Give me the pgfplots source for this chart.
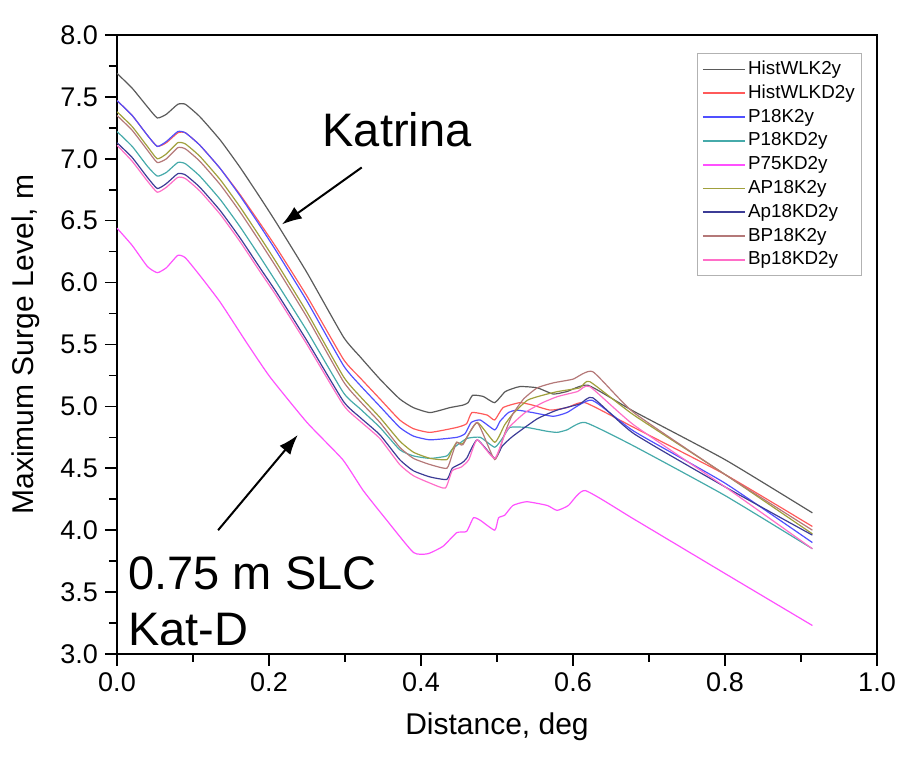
\documentclass[border=0pt]{standalone}
\usepackage{pgfplots}
\pgfplotsset{compat=1.18}
\usepackage{fontspec}
\setmainfont{Liberation Sans}
\usetikzlibrary{arrows.meta}
\definecolor{histblack}{RGB}{90,90,90}
\definecolor{histred}{RGB}{255,90,90}
\definecolor{pblue}{RGB}{80,80,255}
\definecolor{pteal}{RGB}{70,170,170}
\definecolor{pmag}{RGB}{255,80,255}
\definecolor{aolive}{RGB}{160,160,60}
\definecolor{anavy}{RGB}{60,60,150}
\definecolor{bbrown}{RGB}{180,120,120}
\definecolor{bpink}{RGB}{255,110,200}
\begin{document}
\begin{tikzpicture}
\begin{axis}[
  name=ax,
  scale only axis=true,
  width=380pt, height=309.5pt,
  xmin=0, xmax=1, ymin=3, ymax=8,
  xtick={0,0.2,...,1.0}, ytick={3,3.5,...,8},
  minor x tick num=1, minor y tick num=1,
  tick align=outside, xtick pos=bottom, ytick pos=left,
  major tick length=6pt, minor tick length=4pt,
  axis line style={line width=1pt},
  every tick/.style={line width=0.8pt, black},
  /pgf/number format/assume math mode=true,
  /pgf/number format/.cd, fixed, fixed zerofill, precision=1,
  /pgfplots/.cd,
  tick label style={font=\fontsize{13.5}{16}\selectfont},
  xlabel={Distance, deg}, ylabel={Maximum Surge Level, m},
  label style={font=\fontsize{15}{18}\selectfont},
  xlabel style={at={(axis description cs:0.5,0)}, anchor=center, yshift=-36.5pt},
  ylabel style={at={(axis description cs:-0.1197,0.5)}, anchor=center},
  legend style={draw=gray!60, line width=0.6pt, at={(0.98,0.971)}, anchor=north east,
    font=\fontsize{9.4}{11}\selectfont, inner xsep=2pt, inner ysep=2pt,
    nodes={inner sep=1.25pt, text height=7.2pt, text depth=2.2pt}},
  legend cell align=left,
  legend image code/.code={\draw[#1, line width=0.9pt] (0pt,0pt) -- (21pt,0pt);},
  every axis plot/.append style={line width=0.6pt, smooth, tension=0.3},
]
\addplot[histblack] coordinates {(0,7.69)(0.02,7.57)(0.04,7.42)(0.053,7.33)(0.065,7.36)(0.08,7.44)(0.09,7.44)(0.109,7.34)(0.136,7.15)(0.162,6.93)(0.188,6.69)(0.21,6.48)(0.25,6.08)(0.298,5.56)(0.32,5.40)(0.346,5.22)(0.372,5.06)(0.39,4.99)(0.412,4.95)(0.438,4.99)(0.455,5.01)(0.462,5.03)(0.468,5.09)(0.482,5.08)(0.497,5.03)(0.511,5.12)(0.53,5.16)(0.553,5.15)(0.574,5.10)(0.592,5.12)(0.62,5.17)(0.68,4.96)(0.8,4.57)(0.915,4.14)};
\addlegendentry{HistWLK2y}
\addplot[histred] coordinates {(0,7.47)(0.02,7.35)(0.04,7.19)(0.053,7.10)(0.065,7.13)(0.08,7.21)(0.09,7.21)(0.109,7.11)(0.136,6.92)(0.162,6.71)(0.188,6.48)(0.21,6.28)(0.25,5.89)(0.298,5.38)(0.32,5.23)(0.346,5.06)(0.372,4.89)(0.39,4.82)(0.412,4.79)(0.447,4.83)(0.46,4.86)(0.467,4.95)(0.487,4.93)(0.497,4.89)(0.508,4.99)(0.53,5.03)(0.547,5.01)(0.57,4.97)(0.592,4.99)(0.616,5.03)(0.68,4.83)(0.8,4.45)(0.915,4.03)};
\addlegendentry{HistWLKD2y}
\addplot[pblue] coordinates {(0,7.47)(0.02,7.35)(0.04,7.19)(0.053,7.10)(0.065,7.14)(0.08,7.22)(0.09,7.21)(0.109,7.11)(0.136,6.92)(0.162,6.70)(0.188,6.46)(0.21,6.25)(0.25,5.85)(0.298,5.33)(0.32,5.17)(0.346,5.00)(0.372,4.83)(0.39,4.76)(0.412,4.73)(0.447,4.75)(0.458,4.78)(0.466,4.87)(0.478,4.89)(0.497,4.81)(0.504,4.88)(0.515,4.95)(0.526,4.97)(0.547,4.95)(0.574,4.92)(0.592,4.95)(0.625,5.05)(0.68,4.80)(0.8,4.38)(0.915,3.90)};
\addlegendentry{P18K2y}
\addplot[pteal] coordinates {(0,7.22)(0.02,7.10)(0.04,6.94)(0.053,6.86)(0.065,6.89)(0.08,6.97)(0.09,6.96)(0.109,6.86)(0.136,6.67)(0.162,6.45)(0.188,6.21)(0.21,6.00)(0.25,5.61)(0.298,5.11)(0.32,4.98)(0.346,4.83)(0.372,4.65)(0.39,4.60)(0.412,4.58)(0.434,4.60)(0.442,4.66)(0.46,4.74)(0.478,4.75)(0.497,4.67)(0.508,4.75)(0.517,4.83)(0.539,4.83)(0.565,4.80)(0.579,4.79)(0.592,4.81)(0.616,4.87)(0.68,4.68)(0.8,4.28)(0.915,3.85)};
\addlegendentry{P18KD2y}
\addplot[pmag] coordinates {(0,6.44)(0.02,6.30)(0.04,6.13)(0.053,6.08)(0.065,6.12)(0.08,6.22)(0.09,6.20)(0.11,6.05)(0.136,5.84)(0.17,5.52)(0.201,5.24)(0.25,4.87)(0.297,4.57)(0.324,4.32)(0.355,4.08)(0.39,3.82)(0.409,3.81)(0.429,3.87)(0.447,3.98)(0.46,3.99)(0.469,4.10)(0.478,4.08)(0.497,4.00)(0.502,4.10)(0.51,4.12)(0.521,4.20)(0.539,4.23)(0.566,4.20)(0.579,4.16)(0.594,4.20)(0.616,4.32)(0.68,4.09)(0.8,3.65)(0.915,3.23)};
\addlegendentry{P75KD2y}
\addplot[aolive] coordinates {(0,7.38)(0.02,7.26)(0.04,7.10)(0.053,7.00)(0.065,7.04)(0.08,7.13)(0.09,7.12)(0.109,7.02)(0.136,6.83)(0.162,6.61)(0.188,6.37)(0.21,6.16)(0.25,5.76)(0.298,5.24)(0.32,5.08)(0.346,4.91)(0.372,4.72)(0.39,4.63)(0.412,4.58)(0.434,4.57)(0.441,4.65)(0.447,4.71)(0.455,4.70)(0.474,4.87)(0.497,4.71)(0.51,4.85)(0.521,4.94)(0.54,5.05)(0.56,5.09)(0.58,5.12)(0.609,5.15)(0.622,5.20)(0.68,4.93)(0.8,4.45)(0.915,3.97)};
\addlegendentry{AP18K2y}
\addplot[anavy] coordinates {(0,7.13)(0.02,7.01)(0.04,6.85)(0.053,6.76)(0.065,6.80)(0.08,6.88)(0.09,6.87)(0.109,6.77)(0.136,6.58)(0.162,6.36)(0.188,6.12)(0.21,5.92)(0.25,5.53)(0.298,5.04)(0.32,4.91)(0.346,4.77)(0.372,4.57)(0.39,4.48)(0.412,4.43)(0.434,4.41)(0.441,4.50)(0.453,4.54)(0.46,4.58)(0.474,4.73)(0.497,4.58)(0.507,4.68)(0.521,4.76)(0.553,4.90)(0.579,4.97)(0.609,5.02)(0.626,5.07)(0.68,4.78)(0.8,4.35)(0.915,3.96)};
\addlegendentry{Ap18KD2y}
\addplot[bbrown] coordinates {(0,7.35)(0.02,7.23)(0.04,7.07)(0.053,6.97)(0.065,7.00)(0.08,7.09)(0.09,7.08)(0.109,6.98)(0.136,6.79)(0.162,6.57)(0.188,6.33)(0.21,6.12)(0.25,5.72)(0.298,5.20)(0.32,5.04)(0.346,4.87)(0.372,4.67)(0.39,4.58)(0.412,4.53)(0.434,4.50)(0.441,4.61)(0.447,4.71)(0.455,4.69)(0.474,4.87)(0.497,4.57)(0.51,4.78)(0.52,4.93)(0.535,5.06)(0.553,5.15)(0.574,5.19)(0.6,5.22)(0.626,5.28)(0.68,4.95)(0.8,4.45)(0.915,4.00)};
\addlegendentry{BP18K2y}
\addplot[bpink] coordinates {(0,7.11)(0.02,6.98)(0.04,6.82)(0.053,6.73)(0.065,6.77)(0.08,6.85)(0.09,6.84)(0.109,6.74)(0.136,6.55)(0.162,6.33)(0.188,6.09)(0.21,5.89)(0.25,5.50)(0.298,5.01)(0.32,4.88)(0.346,4.74)(0.372,4.53)(0.39,4.44)(0.412,4.38)(0.432,4.34)(0.441,4.48)(0.453,4.51)(0.463,4.57)(0.474,4.73)(0.497,4.58)(0.513,4.81)(0.537,4.95)(0.56,5.03)(0.58,5.08)(0.606,5.12)(0.622,5.16)(0.68,4.85)(0.8,4.35)(0.915,3.85)};
\addlegendentry{Bp18KD2y}
\node[anchor=base west, inner sep=0pt, font=\fontsize{23.5}{28}\selectfont] at (axis cs:0.27,7.10) {Katrina};
\node[anchor=base west, inner sep=0pt, font=\fontsize{23.5}{28}\selectfont] at (axis cs:0.0145,3.52) {0.75 m SLC};
\node[anchor=base west, inner sep=0pt, font=\fontsize{23.5}{28}\selectfont] at (axis cs:0.0145,3.07) {Kat-D};
\draw[-{Latex[length=10pt,width=7pt]}, line width=1pt] (axis cs:0.322,6.93) -- (axis cs:0.217,6.47);
\draw[-{Latex[length=10pt,width=7pt]}, line width=1pt] (axis cs:0.133,4.0) -- (axis cs:0.238,4.77);
\node[anchor=base east, inner sep=0pt, font=\fontsize{12.5}{15}\selectfont] at ([yshift=4pt]axis description cs:0.978,1) {Arc 2};
\end{axis}
\pgfresetboundingbox
\path ([shift={(-58.5pt,-51.5pt)}]ax.south west) rectangle ([shift={(13.5pt,17.5pt)}]ax.north east);
\end{tikzpicture}
\end{document}
